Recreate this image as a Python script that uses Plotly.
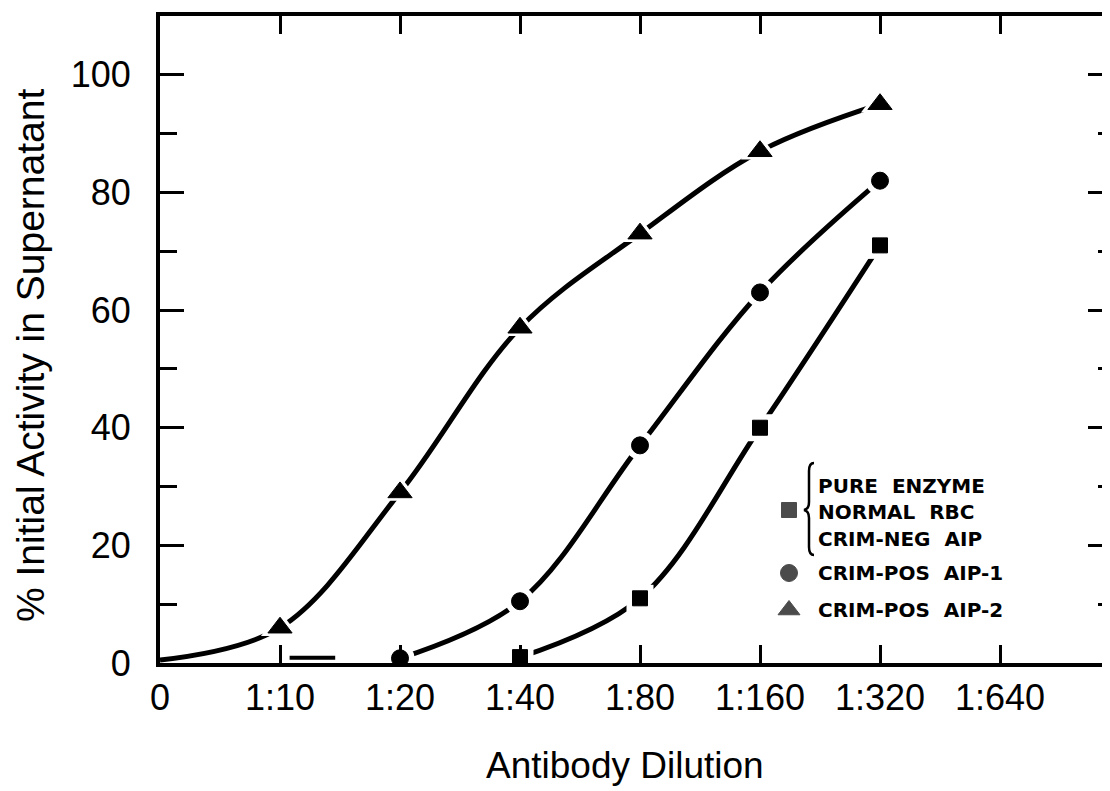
import plotly.graph_objects as go

# ---------------- data ----------------
categories = ["0", "1:10", "1:20", "1:40", "1:80", "1:160", "1:320", "1:640"]

aip2_cats = ["1:10", "1:20", "1:40", "1:80", "1:160", "1:320"]
aip2_vals = [6, 29, 57, 73, 87, 95]
aip2_lead_x = [0.0]          # curve lead-in at origin (no marker)
aip2_lead_y = [0.5]

aip1_cats = ["1:20", "1:40", "1:80", "1:160", "1:320"]
aip1_vals = [0.8, 10.5, 37, 63, 82]
aip1_tail_x = [1.08, 1.46]   # short flat stroke left of 1:20
aip1_tail_y = [0.9, 0.9]

pure_cats = ["1:40", "1:80", "1:160", "1:320"]
pure_vals = [1, 11, 40, 71]

y_ticks = [0, 20, 40, 60, 80, 100]

legend_lines = ["PURE\u00a0 ENZYME", "NORMAL\u00a0 RBC", "CRIM-NEG\u00a0 AIP",
                "CRIM-POS\u00a0 AIP-1", "CRIM-POS\u00a0 AIP-2"]

# ---------------- layout constants (reference pixels) ----------------
OFF = 8                      # browser body margin
W, H = 1110 - OFF, 791 - OFF
L, R, T, B = 160, 1110, 16, 663
FONT = "Liberation Sans"
XMAX = (R - L) / 120.0
YMAX = 110.0


def fx(px):
    return px - OFF


def px2x(px):
    return (px - L) / (R - L) * XMAX


def py2y(py):
    return (B - py) / (B - T) * YMAX


pos = {c: i for i, c in enumerate(categories)}

fig = go.Figure()

series = [
    (aip2_cats, aip2_vals, aip2_lead_x, aip2_lead_y, "triangle-up", 21),
    (aip1_cats, aip1_vals, [], [], "circle", 17),
    (pure_cats, pure_vals, [], [], "square", 15),
]

# curves
for cats, vals, lx, ly, sym, sz in series:
    xs = lx + [pos[c] for c in cats]
    ys = ly + vals
    fig.add_trace(go.Scatter(x=xs, y=ys, mode="lines",
                             line=dict(color="black", width=5, shape="spline", smoothing=1.0),
                             hoverinfo="skip", showlegend=False))
fig.add_trace(go.Scatter(x=aip1_tail_x, y=aip1_tail_y, mode="lines",
                         line=dict(color="black", width=4),
                         hoverinfo="skip", showlegend=False))
# white halos (gaps around markers)
for cats, vals, lx, ly, sym, sz in series:
    fig.add_trace(go.Scatter(x=[pos[c] for c in cats], y=vals, mode="markers",
                             marker=dict(symbol=sym, size=sz + 12, color="white"),
                             hoverinfo="skip", showlegend=False))
# markers
for cats, vals, lx, ly, sym, sz in series:
    fig.add_trace(go.Scatter(x=[pos[c] for c in cats], y=vals, mode="markers",
                             marker=dict(symbol=sym, size=sz, color="black",
                                         line=dict(color="black", width=1)),
                             showlegend=False))

# invisible trace for right-hand tick axis
fig.add_trace(go.Scatter(x=[None], y=[None], yaxis="y2", showlegend=False, hoverinfo="skip"))

# legend key markers (placed from reference pixel positions)
leg_sym = ["square", "circle", "triangle-up"]
leg_sz = [15, 17, 19]
leg_px_y = [510, 573, 610]
fig.add_trace(go.Scatter(x=[px2x(789)] * 3, y=[py2y(v) for v in leg_px_y], mode="markers",
                         marker=dict(symbol=leg_sym, size=leg_sz, color="black",
                                     line=dict(color="black", width=1)),
                         showlegend=False, hoverinfo="skip"))

text_px_y = [486, 512, 539, 573, 610]
annotations = []
for txt, ty in zip(legend_lines, text_px_y):
    annotations.append(dict(x=px2x(816), y=py2y(ty), xref="x", yref="y", text=txt, showarrow=False,
                            xanchor="left", yanchor="middle",
                            font=dict(family="DejaVu Sans", size=20, color="black", weight="bold")))

# axis titles
annotations.append(dict(x=(30 - L) / (R - L), y=(B - 356) / (B - T), xref="paper", yref="paper",
                        text="% Initial Activity in Supernatant", textangle=-90, showarrow=False,
                        xanchor="center", yanchor="middle",
                        font=dict(family=FONT, size=39, color="black")))
annotations.append(dict(x=(625 - L) / (R - L), y=(B - 765) / (B - T), xref="paper", yref="paper",
                        text="Antibody Dilution", showarrow=False,
                        xanchor="center", yanchor="middle",
                        font=dict(family=FONT, size=37, color="black")))

# brace (reference pixel geometry -> data coords)
bp = [("M", 814, 463), ("Q", 809, 463, 809, 471), ("L", 809, 502), ("Q", 809, 509, 804, 510),
      ("Q", 809, 511, 809, 518), ("L", 809, 547), ("Q", 809, 555, 814, 555)]
parts = []
for seg in bp:
    cmd, coords = seg[0], seg[1:]
    pts = []
    for i in range(0, len(coords), 2):
        pts.append(f"{px2x(coords[i]):.5f},{py2y(coords[i + 1]):.5f}")
    parts.append(cmd + " " + " ".join(pts))
brace = " ".join(parts)
shapes = [dict(type="path", path=brace, xref="x", yref="y",
               line=dict(color="black", width=2.5))]

axis_common = dict(showgrid=False, zeroline=False, color="black")

fig.update_layout(
    width=W, height=H,
    margin=dict(l=fx(L), r=(W + OFF) - R, t=fx(T), b=(H + OFF) - B, pad=0),
    paper_bgcolor="white", plot_bgcolor="white",
    xaxis=dict(range=[0, XMAX], tickmode="array",
               tickvals=list(range(len(categories))), ticktext=categories,
               ticks="inside", ticklen=18, tickwidth=3, tickcolor="black",
               showline=True, linewidth=4, linecolor="black", mirror="ticks",
               ticklabelstandoff=0,
               tickfont=dict(family=FONT, size=36, color="black"), **axis_common),
    yaxis=dict(range=[0, YMAX], tickmode="array", tickvals=y_ticks,
               ticks="inside", ticklen=24, tickwidth=3, tickcolor="black",
               minor=dict(dtick=10, tick0=0, ticks="inside", ticklen=17, tickwidth=3, tickcolor="black"),
               showline=True, linewidth=4, linecolor="black",
               ticklabelstandoff=18,
               tickfont=dict(family=FONT, size=36, color="black"), **axis_common),
    yaxis2=dict(range=[0, YMAX], overlaying="y", side="right", anchor="x",
                tickmode="array", tickvals=y_ticks, showticklabels=False,
                ticks="inside", ticklen=22, tickwidth=3, tickcolor="black",
                minor=dict(dtick=10, tick0=0, ticks="inside", ticklen=12, tickwidth=3, tickcolor="black"),
                showline=False, **axis_common),
    annotations=annotations,
    shapes=shapes,
)

fig.write_html("out.html")
